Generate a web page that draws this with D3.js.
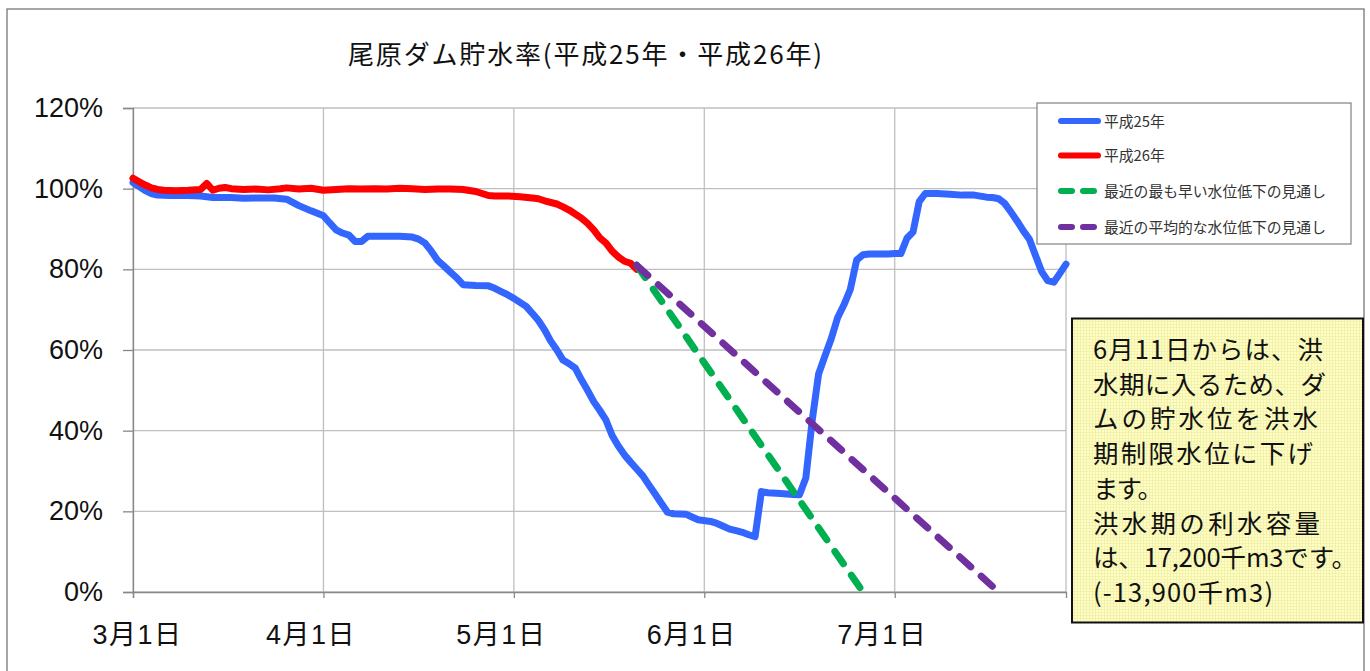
<!DOCTYPE html>
<html><head><meta charset="utf-8">
<script src="https://cdn.jsdelivr.net/npm/d3@7"></script>
<style>
html,body{margin:0;padding:0;background:#fff;}
svg{display:block;}
</style>
</head><body>
<svg id="chart" width="1370" height="671"></svg>
<script>
// ---------- data ----------
const title = "尾原ダム貯水率(平成25年・平成26年)";
const seriesNames = ["平成25年","平成26年","最近の最も早い水位低下の見通し","最近の平均的な水位低下の見通し"];
const xTickDates = ["03-01","04-01","05-01","06-01","07-01"];
const xTickLabels = ["3月1日","4月1日","5月1日","6月1日","7月1日"];
const xDomainEnd = "07-29";
const yTicks = [0,20,40,60,80,100,120];

// 平成25年 (date, %)
const h25Dates = ["03-01","03-02","03-03","03-04","03-05","03-07","03-10","03-12","03-14","03-17","03-19","03-21","03-24","03-26","03-28","03-30",
 "04-01","04-02","04-03","04-04","04-05","04-06","04-07","04-08","04-11","04-13","04-15","04-16","04-17","04-18","04-19","04-20","04-21","04-22","04-23","04-25","04-27","04-28","04-29","04-30",
 "05-01","05-03","05-04","05-05","05-06","05-07","05-08","05-09","05-10","05-11","05-12","05-13","05-14","05-15","05-16","05-17","05-18","05-19","05-20","05-21","05-22","05-23","05-24","05-25","05-26","05-27","05-29","05-30","05-31",
 "06-02","06-03","06-04","06-05","06-06","06-07","06-08","06-09","06-10","06-11","06-13","06-15","06-16","06-17","06-18","06-19","06-20","06-21","06-22","06-23","06-24","06-25","06-26","06-27","06-30",
 "07-01","07-02","07-03","07-04","07-05","07-06","07-08","07-10","07-12","07-14","07-16","07-17","07-18","07-19","07-20","07-21","07-22","07-23","07-24","07-25","07-26","07-27","07-28","07-29"];
const h25Values = [101.5,100.5,99.5,98.8,98.4,98.3,98.3,98.2,97.8,97.8,97.6,97.7,97.7,97.4,95.8,94.5,
 93.3,91.5,89.8,89.0,88.5,86.9,86.9,88.2,88.2,88.2,88.0,87.5,86.5,84.5,82.2,80.8,79.3,77.9,76.2,76.0,75.9,75.3,74.5,73.7,
 72.8,70.8,69.1,67.3,65.0,62.2,60.0,57.5,56.6,55.5,52.6,50.0,47.2,45.0,42.6,38.8,36.2,34.0,32.2,30.5,28.8,26.5,24.3,22.0,19.8,19.4,19.3,18.6,17.9,
 17.5,17.0,16.3,15.6,15.2,14.8,14.2,13.7,24.9,24.6,24.4,24.2,24.1,28.3,42.5,54.0,58.5,62.8,68.0,71.2,75.0,82.3,83.6,83.8,83.8,
 83.9,83.9,87.7,89.3,96.8,98.8,98.8,98.6,98.4,98.4,97.9,97.8,97.5,96.3,94.2,92.0,89.6,87.5,83.5,79.5,77.2,76.8,79.0,81.3];

// 平成26年 (date, %)
const h26Dates = ["03-01","03-02","03-03","03-04","03-05","03-06","03-08","03-10","03-12","03-13","03-14","03-15","03-16","03-17","03-19","03-21","03-23","03-25","03-26","03-28","03-30",
 "04-01","04-03","04-05","04-07","04-09","04-11","04-13","04-15","04-17","04-19","04-21","04-23","04-25","04-27","04-28","04-30",
 "05-02","05-04","05-05","05-06","05-08","05-09","05-10","05-12","05-13","05-14","05-15","05-16","05-17","05-18","05-19","05-20","05-21"];
const h26Values = [102.6,101.7,100.9,100.2,99.8,99.6,99.5,99.6,99.8,101.3,99.6,100.1,100.3,100.0,99.8,99.9,99.7,100.0,100.2,99.9,100.1,
 99.6,99.8,100.0,99.9,100.0,99.9,100.1,100.0,99.8,99.9,99.9,99.8,99.3,98.3,98.2,98.2,
 98.0,97.7,97.5,97.0,96.2,95.5,94.7,92.7,91.4,89.8,87.8,86.5,84.5,83.1,82.0,81.5,80.0];

// 見通し lines
const earliestDates = ["05-21","06-26"];
const earliestValues = [81,0];
const averageDates = ["05-21","07-18"];
const averageValues = [81,0];

const noteLines = ["6月11日からは、洪","水期に入るため、ダ","ムの貯水位を洪水","期制限水位に下げ","ます。","洪水期の利水容量","は、17,200千m3です。","(-13,900千m3)"];
const noteWidths = [230,233,225,220,70,227,264,180];

const colors = ["#3366FF","#FF0000","#00B050","#7030A0"];

// ---------- drawing ----------
const svg = d3.select("#chart");
const parse = s => d3.timeParse("%Y-%m-%d")("2014-" + s);
const m = {left:133, top:108, right:1066, bottom:592};
const monthW = 190.43;

const xDomain = xTickDates.concat([xDomainEnd]).map(parse);
const x = d3.scaleTime().domain(xDomain)
  .range([0,1,2,3,4].map(i => m.left + i*monthW).concat([m.right]));
const y = d3.scaleLinear().domain([0,120]).range([m.bottom, m.top]);

// outer frame
svg.append("rect").attr("x",7).attr("y",9).attr("width",1357).attr("height",700)
  .attr("fill","#fff").attr("stroke","#777").attr("stroke-width",1.3);

// title
svg.append("text").attr("x",348).attr("y",64)
  .attr("font-family","'Noto Sans CJK JP', sans-serif").attr("font-size",26)
  .attr("textLength",474).attr("lengthAdjust","spacing")
  .attr("fill","#111").text(title);

// gridlines
const grid = svg.append("g").attr("stroke","#BFBFBF").attr("stroke-width",1.3);
yTicks.forEach(t => grid.append("line").attr("x1",m.left).attr("x2",m.right).attr("y1",y(t)).attr("y2",y(t)));
xTickDates.forEach(d => grid.append("line").attr("x1",x(parse(d))).attr("x2",x(parse(d))).attr("y1",m.top).attr("y2",m.bottom));
grid.append("line").attr("x1",m.right).attr("x2",m.right).attr("y1",m.top).attr("y2",m.bottom);

// y axis
const yAxis = svg.append("g").attr("transform",`translate(${m.left},0)`)
  .call(d3.axisLeft(y).tickValues(yTicks).tickFormat(d => d + "%").tickSize(10).tickPadding(20));
yAxis.select(".domain").attr("stroke","#888").attr("stroke-width",1.3);
yAxis.selectAll(".tick line").attr("stroke","#888").attr("stroke-width",1.3);
yAxis.selectAll(".tick text").attr("font-family","'Liberation Sans', Arial, sans-serif")
  .attr("font-size",27).attr("fill","#111");

// x axis
const xAxis = svg.append("g").attr("transform",`translate(0,${m.bottom})`)
  .call(d3.axisBottom(x).tickValues(xTickDates.map(parse)).tickFormat((d,i) => xTickLabels[i]).tickSize(6).tickPadding(27));
xAxis.select(".domain").attr("stroke","#888").attr("stroke-width",1.3);
xAxis.selectAll(".tick line").attr("stroke","#888").attr("stroke-width",1.3);
xAxis.selectAll(".tick text").attr("font-family","'Liberation Sans', 'Noto Sans CJK JP', sans-serif")
  .attr("font-size",27).attr("fill","#111").attr("letter-spacing",1.5)
  .attr("dx",(d,i) => i === 0 ? 4 : -13);

// lines
const line = d3.line().x(d => x(d[0])).y(d => y(d[1]));
const toPts = (ds, vs) => ds.map((d,i) => [parse(d), vs[i]]);
const plot = svg.append("g").attr("fill","none").attr("stroke-linecap","round").attr("stroke-linejoin","round");
plot.append("path").attr("d",line(toPts(h25Dates,h25Values))).attr("stroke",colors[0]).attr("stroke-width",7);
plot.append("path").attr("d",line(toPts(h26Dates,h26Values))).attr("stroke",colors[1]).attr("stroke-width",7);
plot.append("path").attr("d",line(toPts(earliestDates,earliestValues))).attr("stroke",colors[2]).attr("stroke-width",7).attr("stroke-dasharray","15 14");
plot.append("path").attr("d",line(toPts(averageDates,averageValues))).attr("stroke",colors[3]).attr("stroke-width",7).attr("stroke-dasharray","15 14");

// legend
const lg = svg.append("g");
lg.append("rect").attr("x",1037).attr("y",103).attr("width",314).attr("height",141)
  .attr("fill","#fff").attr("stroke","#808080").attr("stroke-width",1.2);
const legY = [121,155.5,191,227];
seriesNames.forEach((n,i) => {
  const ln = lg.append("line").attr("x1",1061).attr("x2",1098).attr("y1",legY[i]).attr("y2",legY[i])
    .attr("stroke",colors[i]).attr("stroke-width",6).attr("stroke-linecap","round");
  if (i >= 2) ln.attr("stroke-dasharray","11 11");
  lg.append("text").attr("x",1104).attr("y",legY[i]+5.5)
    .attr("font-family","'Noto Sans CJK JP', sans-serif").attr("font-size",14.8).attr("fill","#333").text(n);
});

// note box
const defs = svg.append("defs");
const pat = defs.append("pattern").attr("id","yel").attr("width",3).attr("height",3).attr("patternUnits","userSpaceOnUse");
pat.append("rect").attr("width",3).attr("height",3).attr("fill","#FFFFC4");
pat.append("rect").attr("width",3).attr("height",1).attr("fill","#F2F2AE");
pat.append("rect").attr("width",1).attr("height",3).attr("fill","#F2F2AE");
svg.append("rect").attr("x",1072).attr("y",318.5).attr("width",291).attr("height",304)
  .attr("fill","url(#yel)").attr("stroke","#111").attr("stroke-width",2);
noteLines.forEach((t,i) => {
  svg.append("text").attr("x",1093).attr("y",359 + i*34.7)
    .attr("font-family","'Noto Sans CJK JP', sans-serif").attr("font-size",25.5).attr("fill","#111")
    .attr("textLength",noteWidths[i]).attr("lengthAdjust","spacing").text(t);
});
</script>
</body></html>
